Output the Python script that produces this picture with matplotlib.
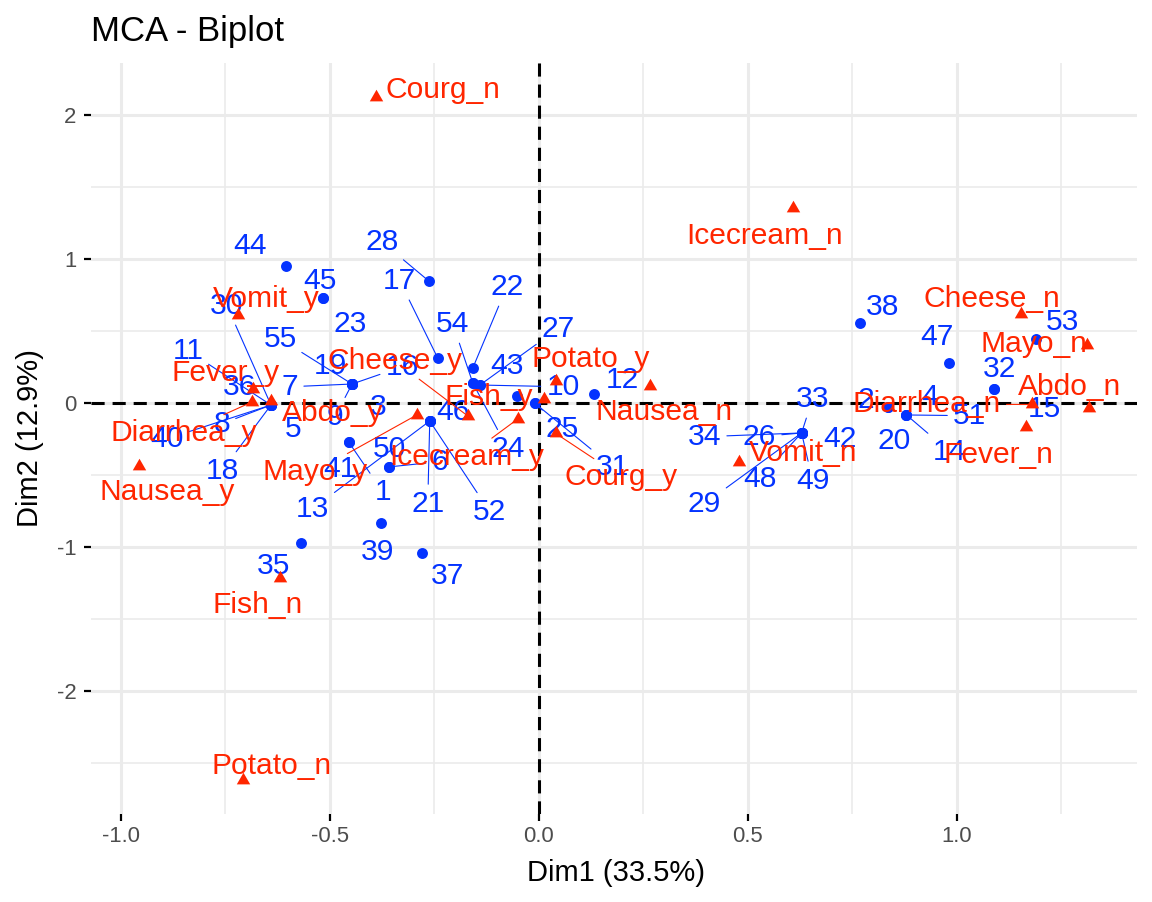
import matplotlib
matplotlib.use('Agg')
import matplotlib.pyplot as plt
import numpy as np

plt.rcParams['font.family'] = ['Liberation Sans', 'DejaVu Sans']

# ---------------- data ----------------
ind_labels = [str(i) for i in range(1, 56)]
ind_dim1 = [-0.455, 0.837, -0.447, 0.837, -0.641, -0.359, -0.447, -0.641, -0.447, -0.141,
            -0.641, 0.132, -0.261, 0.880, 1.089, -0.447, -0.242, -0.641, -0.447, 0.880,
            -0.261, -0.158, -0.517, -0.158, -0.010, 0.629, -0.141, -0.263, 0.629, -0.641,
            -0.010, 1.089, 0.629, 0.629, -0.569, -0.641, -0.280, 0.768, -0.378, -0.641,
            -0.455, 0.629, -0.053, -0.605, -0.517, -0.261, 0.983, 0.629, 0.629, -0.359,
            0.880, -0.261, 1.189, -0.158, -0.447]
ind_dim2 = [-0.271, -0.028, 0.132, -0.028, -0.014, -0.444, 0.132, -0.014, 0.132, 0.125,
            -0.014, 0.063, -0.125, -0.083, 0.097, 0.132, 0.313, -0.014, 0.132, -0.083,
            -0.125, 0.243, 0.729, 0.139, 0.000, -0.208, 0.125, 0.847, -0.208, -0.014,
            0.000, 0.097, -0.208, -0.208, -0.972, -0.014, -1.042, 0.556, -0.833, -0.014,
            -0.271, -0.208, 0.049, 0.951, 0.729, -0.125, 0.278, -0.208, -0.208, -0.444,
            -0.083, -0.125, 0.444, 0.139, 0.132]

var_labels = ['Nausea_n', 'Nausea_y', 'Vomit_n', 'Vomit_y', 'Abdo_n', 'Abdo_y',
              'Fever_n', 'Fever_y', 'Diarrhea_n', 'Diarrhea_y', 'Potato_n', 'Potato_y',
              'Fish_n', 'Fish_y', 'Mayo_n', 'Mayo_y', 'Courg_n', 'Courg_y',
              'Cheese_n', 'Cheese_y', 'Icecream_n', 'Icecream_y']
var_dim1 = [0.267, -0.958, 0.479, -0.719, 1.318, -0.641, 1.166, -0.683, 1.180, -0.686,
            -0.708, 0.041, -0.620, 0.012, 1.313, -0.292, -0.390, 0.040, 1.153, -0.170,
            0.608, -0.050]
var_dim2 = [0.121, -0.435, -0.409, 0.614, -0.036, 0.017, -0.168, 0.098, -0.010, 0.008,
            -2.618, 0.151, -1.215, 0.030, 0.403, -0.083, 2.125, -0.210, 0.618, -0.090,
            1.354, -0.110]

dim1_pct = 33.5
dim2_pct = 12.9

# ---------------- layout (label repel offsets, pixels: dx right, dy down) ----------------
ind_offsets = {
    '1': (34, 47), '2': (-23, -10), '3': (26, 20), '4': (41, -13), '5': (22, 21),
    '6': (51, -8), '7': (-62, 0), '8': (-49, 16), '9': (-17, 30), '10': (83, -1),
    '11': (-83, -57), '12': (28, -17), '13': (-117, 85), '14': (43, 34), '15': (51, 17),
    '16': (50, -20), '17': (-38, -80), '18': (-49, 63), '19': (-22, -21), '20': (-12, 23),
    '21': (-2, 80), '22': (34, -84), '23': (27, 23), '24': (35, 63), '25': (28, 23),
    '26': (-42, 1), '27': (78, -59), '28': (-47, -42), '29': (-97, 68), '30': (-44, -102),
    '31': (78, 61), '32': (6, -23), '33': (11, -37), '34': (-97, 1), '35': (-28, 20),
    '36': (-31, -21), '37': (26, 20), '38': (23, -19), '39': (-3, 26), '40': (-104, 31),
    '41': (-9, 24), '42': (38, 3), '43': (-10, -33), '44': (-36, -23), '45': (-3, -20),
    '46': (23, -12), '47': (-13, -29), '48': (-42, 43), '49': (11, 45), '50': (1, -21),
    '51': (63, -2), '52': (60, 88), '53': (27, -20), '54': (-20, -62), '55': (-72, -48),
}
ind_segments = {'1', '6', '7', '8', '9', '10', '11', '13', '14', '16', '17', '18', '21',
                '22', '24', '25', '26', '27', '28', '29', '30', '31', '33', '34', '40',
                '48', '49', '51', '52', '54', '55'}
var_offsets = {
    'Nausea_n': (14, 24), 'Nausea_y': (29, 24), 'Vomit_n': (64, -12), 'Vomit_y': (28, -18),
    'Abdo_n': (-20, -24), 'Abdo_y': (62, 10), 'Fever_n': (-28, 25), 'Fever_y': (-28, -19),
    'Diarrhea_n': (-105, -3), 'Diarrhea_y': (-68, 28), 'Potato_n': (29, -17),
    'Potato_y': (35, -25), 'Fish_n': (-22, 24), 'Fish_y': (-55, -4), 'Mayo_n': (-53, -4),
    'Mayo_y': (-102, 54), 'Courg_n': (67, -10), 'Courg_y': (66, 41), 'Cheese_n': (-29, -18),
    'Cheese_y': (-73, -58), 'Icecream_n': (-28, 25), 'Icecream_y': (-51, 35),
}
var_segments = {'Cheese_y', 'Mayo_y', 'Icecream_y', 'Courg_y', 'Diarrhea_y', 'Diarrhea_n'}

BLUE = '#0433FF'
RED = '#FF2600'
LABEL_FS = 21.6
CAP = 0.358 * 30  # half cap height in px, to center digits visually

W, H = 1152, 902
fig = plt.figure(figsize=(W / 100, H / 100), dpi=100)
ax = fig.add_axes([91 / W, 1 - 814 / H, (1137 - 91) / W, (814 - 63) / H])

# limits with ggplot-style 5% expansion
allx = np.array(ind_dim1 + var_dim1)
ally = np.array(ind_dim2 + var_dim2)
rx = allx.max() - allx.min()
ry = ally.max() - ally.min()
ax.set_xlim(allx.min() - 0.05 * rx, allx.max() + 0.05 * rx)
ax.set_ylim(ally.min() - 0.05 * ry, ally.max() + 0.05 * ry)

for s in ax.spines.values():
    s.set_visible(False)

xmaj = [-1.0, -0.5, 0.0, 0.5, 1.0]
ymaj = [-2, -1, 0, 1, 2]
ax.set_xticks(xmaj)
ax.set_xticklabels(['%.1f' % v for v in xmaj])
ax.set_yticks(ymaj)
ax.set_yticklabels(['%d' % v for v in ymaj])
ax.set_xticks([-0.75, -0.25, 0.25, 0.75, 1.25], minor=True)
ax.set_yticks([-2.5, -1.5, -0.5, 0.5, 1.5], minor=True)
ax.grid(True, which='major', color='#EBEBEB', lw=2.2, zorder=0)
ax.grid(True, which='minor', color='#EBEBEB', lw=1.2, zorder=0)
ax.set_axisbelow(True)
ax.tick_params(which='major', length=5, width=1.6, color='black', labelsize=15.9,
               labelcolor='#4D4D4D')
ax.tick_params(axis='y', which='major', pad=5.5)
ax.tick_params(axis='x', which='major', pad=4)
ax.tick_params(which='minor', length=0)

ax.axhline(0, color='black', lw=2.2, ls=(0, (4.3, 2.6)), zorder=2)
ax.axvline(0, color='black', lw=2.2, ls=(0, (4.3, 2.6)), zorder=2)

# individuals
ax.scatter(ind_dim1, ind_dim2, s=62, color=BLUE, zorder=3, linewidths=0)
for lab, x, y in zip(ind_labels, ind_dim1, ind_dim2):
    dx, dy = ind_offsets[lab]
    ap = None
    if lab in ind_segments:
        ap = dict(arrowstyle='-', color=BLUE, lw=0.8, shrinkA=2, shrinkB=0)
    ax.annotate(lab, (x, y), xytext=(dx, -dy - CAP), textcoords='offset pixels',
                ha='center', va='baseline', fontsize=LABEL_FS, color=BLUE, zorder=4,
                arrowprops=ap)

# variable categories
tri = [(-1, -0.577), (1, -0.577), (0, 1.155)]
ax.scatter(var_dim1, var_dim2, s=125, marker=tri, color=RED, zorder=5, linewidths=0)
for lab, x, y in zip(var_labels, var_dim1, var_dim2):
    dx, dy = var_offsets[lab]
    ap = None
    if lab in var_segments:
        ap = dict(arrowstyle='-', color=RED, lw=0.8, shrinkA=2, shrinkB=0)
    ax.annotate(lab, (x, y), xytext=(dx, -dy - CAP), textcoords='offset pixels',
                ha='center', va='baseline', fontsize=LABEL_FS, color=RED, zorder=6,
                arrowprops=ap)

fig.text(91 / W, 1 - 40.5 / H, 'MCA - Biplot', fontsize=25, color='black',
         ha='left', va='baseline')
fig.text(616 / W, 1 - 873 / H, 'Dim1 (%.1f%%)' % dim1_pct, fontsize=21, color='black',
         ha='center', va='center')
fig.text(30 / W, 1 - 438 / H, 'Dim2 (%.1f%%)' % dim2_pct, fontsize=21, color='black',
         ha='center', va='center', rotation=90)

fig.savefig('out.png', dpi=100, facecolor='white')
